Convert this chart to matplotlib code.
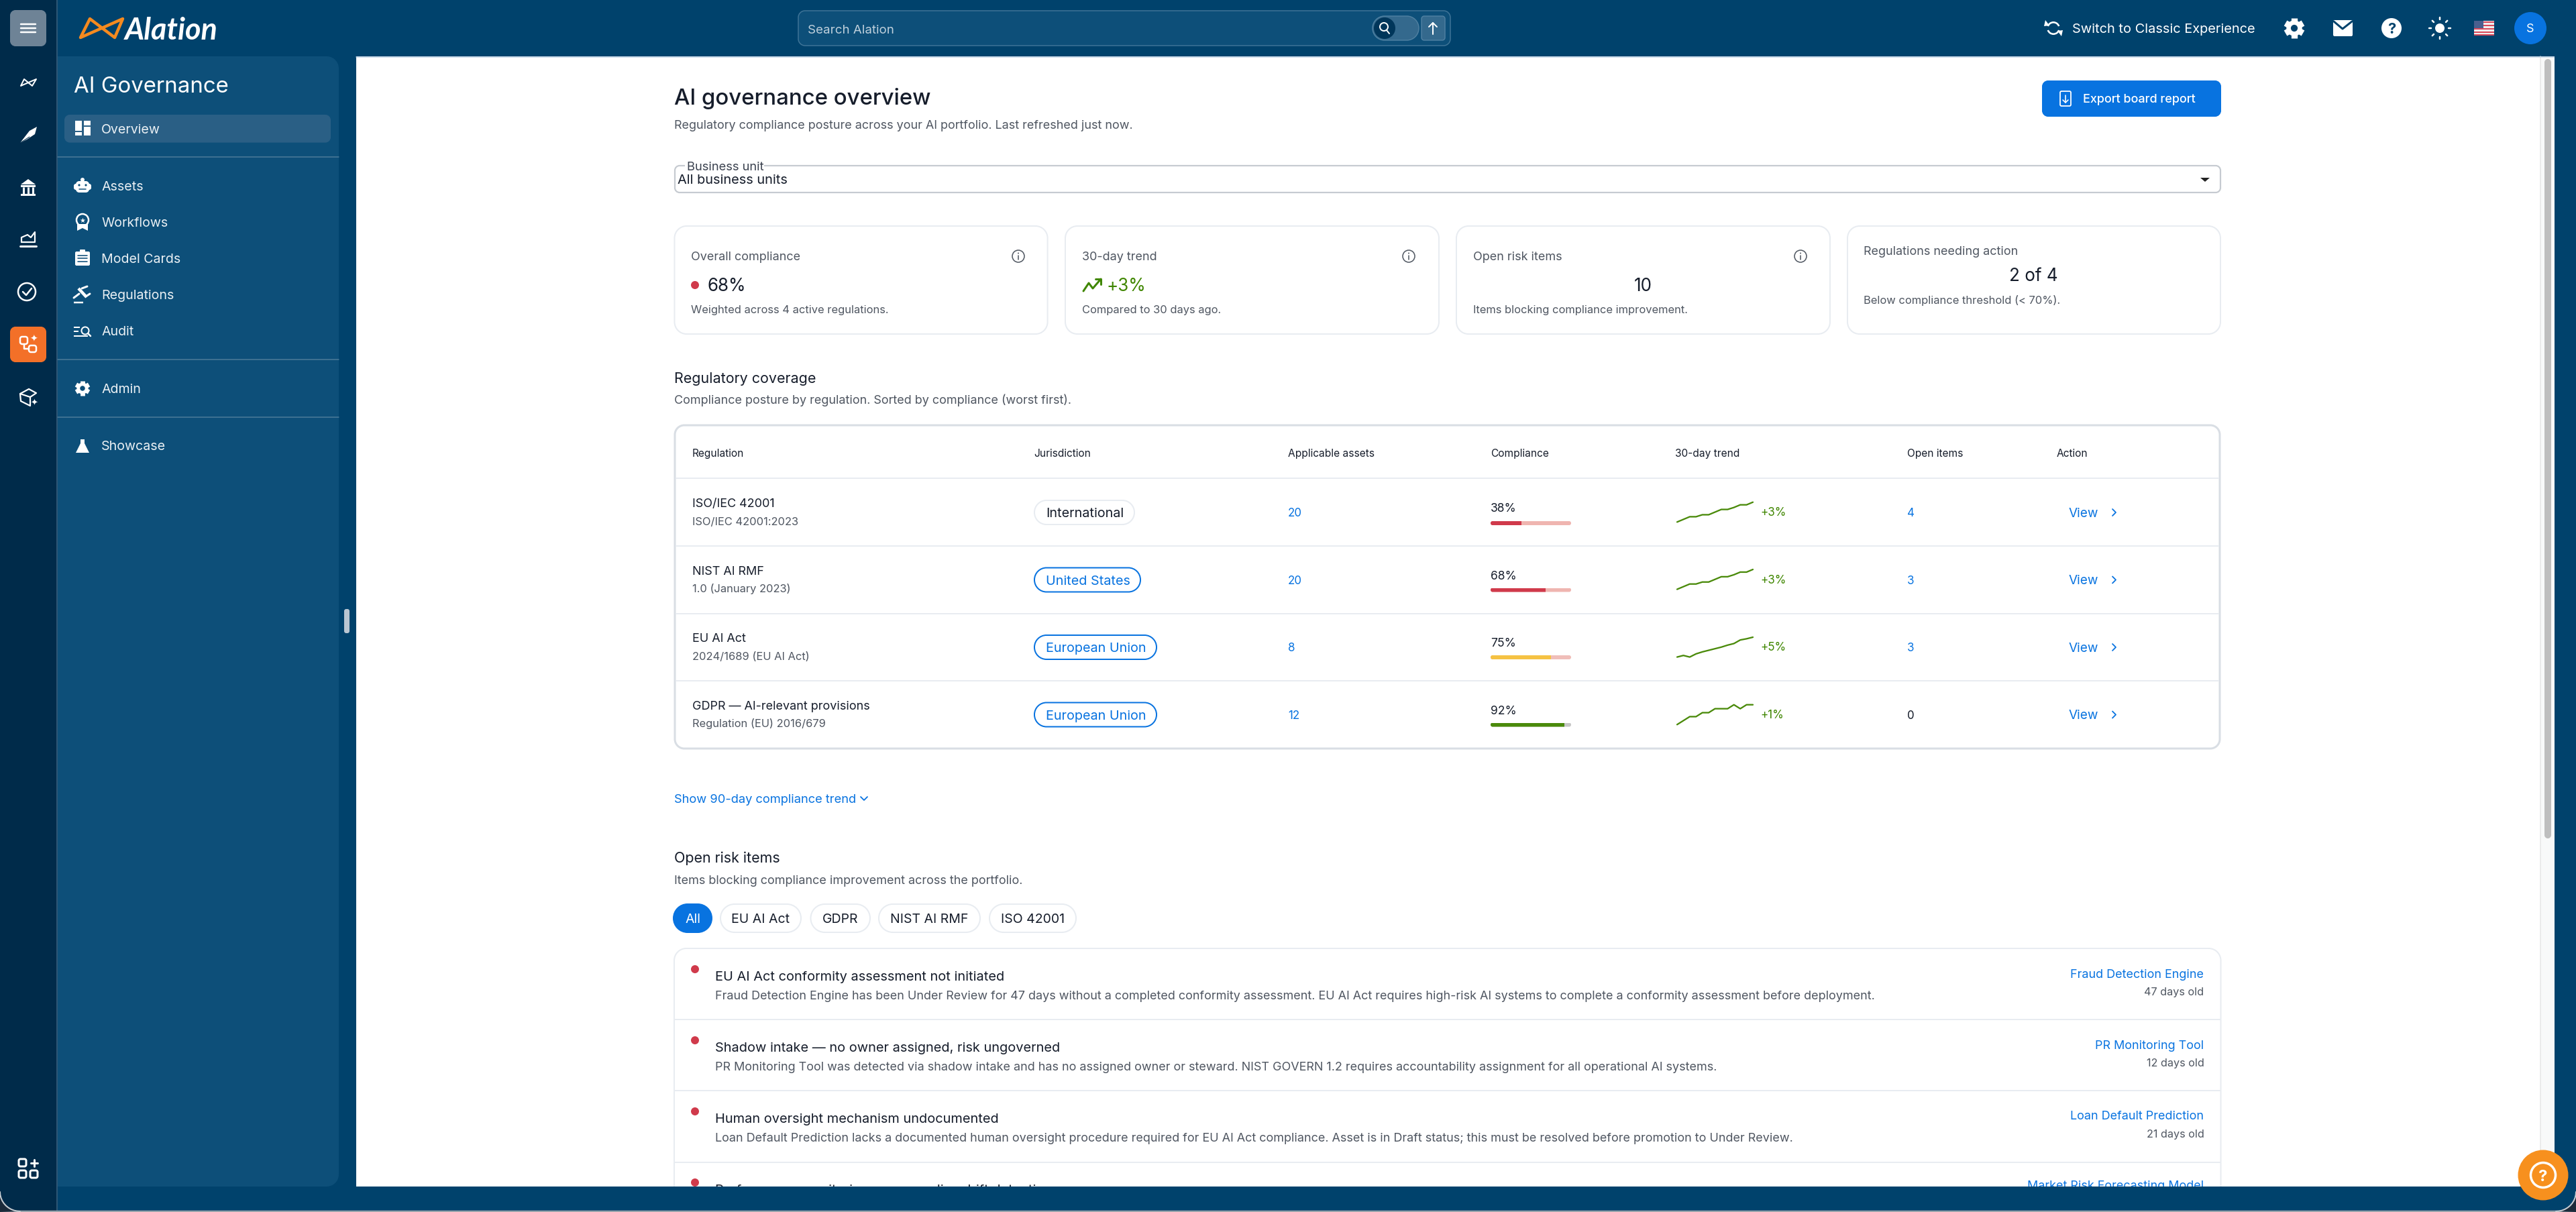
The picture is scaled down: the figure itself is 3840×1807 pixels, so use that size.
import math
import matplotlib
matplotlib.use("Agg")
import matplotlib.pyplot as plt
from matplotlib.patches import PathPatch, Rectangle, Circle, Polygon, Wedge
from matplotlib.path import Path

W, H = 3840, 1807
FONT = ["Inter", "DejaVu Sans"]
plt.rcParams["font.family"] = FONT

# ---------- DATA ----------
nav_items = ["Overview", "Assets", "Workflows", "Model Cards", "Regulations", "Audit", "Admin", "Showcase"]
regulations = ["ISO/IEC 42001", "NIST AI RMF", "EU AI Act", "GDPR — AI-relevant provisions"]
versions = ["ISO/IEC 42001:2023", "1.0 (January 2023)", "2024/1689 (EU AI Act)", "Regulation (EU) 2016/679"]
jurisdictions = ["International", "United States", "European Union", "European Union"]
assets = [20, 20, 8, 12]
compliance = [38, 68, 75, 92]
open_items = [4, 3, 3, 0]
deltas = ["+3%", "+3%", "+5%", "+1%"]
trend_iso = [35.0, 35.4, 35.8, 35.8, 36.1, 36.1, 36.5, 36.9, 36.9, 37.2, 37.6, 37.6, 38.0]
trend_nist = [65.0, 65.4, 65.8, 65.8, 66.1, 66.1, 66.5, 66.9, 66.9, 67.2, 67.6, 67.6, 68.0]
trend_eu = [70.0, 70.4, 70.0, 70.8, 71.3, 71.7, 72.1, 72.5, 73.0, 73.4, 74.3, 74.6, 75.0]
trend_gdpr = [91.0, 91.2, 91.4, 91.4, 91.6, 91.6, 91.8, 91.8, 91.8, 92.0, 91.8, 92.0, 92.0]
trends = [trend_iso, trend_nist, trend_eu, trend_gdpr]
headers = ["Regulation", "Jurisdiction", "Applicable assets", "Compliance", "30-day trend", "Open items", "Action"]
filter_chips = ["All", "EU AI Act", "GDPR", "NIST AI RMF", "ISO 42001"]
risk_titles = ["EU AI Act conformity assessment not initiated",
               "Shadow intake — no owner assigned, risk ungoverned",
               "Human oversight mechanism undocumented",
               "Performance monitoring gap — no live drift detection"]
risk_desc = ["Fraud Detection Engine has been Under Review for 47 days without a completed conformity assessment. EU AI Act requires high-risk AI systems to complete a conformity assessment before deployment.",
             "PR Monitoring Tool was detected via shadow intake and has no assigned owner or steward. NIST GOVERN 1.2 requires accountability assignment for all operational AI systems.",
             "Loan Default Prediction lacks a documented human oversight procedure required for EU AI Act compliance. Asset is in Draft status; this must be resolved before promotion to Under Review."]
risk_assets = ["Fraud Detection Engine", "PR Monitoring Tool", "Loan Default Prediction", "Market Risk Forecasting Model"]
risk_age = ["47 days old", "12 days old", "21 days old"]

# ---------- COLOURS ----------
TOP = "#00426C"; RAIL = "#002B4A"; SIDE = "#0D4F79"; SEL = "#2A5F85"
BLUE = "#0873E0"; INK = "#161D2B"; GRAY = "#4F5661"; LINE = "#E8ECF1"; LINE2 = "#D9DEE4"
GREEN = "#3F8600"; SPARK = "#4A8A0A"; RED = "#D03A4B"; ORANGE = "#F37028"
BAR_COL = [RED, RED, "#F5C243", "#4A8A0A"]
TRACK_COL = ["#EFB5B0", "#EFB5B0", "#F0BEB9", "#C6C6C6"]

fig = plt.figure(figsize=(W / 100, H / 100), dpi=100, facecolor=TOP)
ax = fig.add_axes([0, 0, 1, 1])
ax.set_xlim(0, W); ax.set_ylim(H, 0); ax.axis("off")


def T(x, yc, s, px=18, c=INK, ha="left", weight="normal", z=10, fam=None, style="normal"):
    """Text placed by the visual centre of its capitals, size in pixels."""
    return ax.text(x, yc + 0.36 * px, s, fontsize=px * 0.72, color=c, ha=ha, va="baseline",
                   fontweight=weight, zorder=z, family=fam or FONT, fontstyle=style)


def R(x0, y0, x1, y1, r=0, fc="white", ec="none", lw=0, z=2):
    if r:
        k = r * (1 - 0.5523)
        verts = [(x0 + r, y0), (x1 - r, y0), (x1 - k, y0), (x1, y0 + k), (x1, y0 + r),
                 (x1, y1 - r), (x1, y1 - k), (x1 - k, y1), (x1 - r, y1),
                 (x0 + r, y1), (x0 + k, y1), (x0, y1 - k), (x0, y1 - r),
                 (x0, y0 + r), (x0, y0 + k), (x0 + k, y0), (x0 + r, y0), (x0 + r, y0)]
        codes = [Path.MOVETO, Path.LINETO, Path.CURVE4, Path.CURVE4, Path.CURVE4,
                 Path.LINETO, Path.CURVE4, Path.CURVE4, Path.CURVE4,
                 Path.LINETO, Path.CURVE4, Path.CURVE4, Path.CURVE4,
                 Path.LINETO, Path.CURVE4, Path.CURVE4, Path.CURVE4, Path.CLOSEPOLY]
        p = PathPatch(Path(verts, codes), fc=fc, ec=ec, lw=lw * 0.72, zorder=z)
    else:
        p = Rectangle((x0, y0), x1 - x0, y1 - y0, fc=fc, ec=ec, lw=lw * 0.72, zorder=z)
    ax.add_patch(p)
    return p


def L(xs, ys, c="white", lw=2, z=6, cap="round"):
    ax.plot(xs, ys, color=c, lw=lw * 0.72, zorder=z, solid_capstyle=cap, solid_joinstyle="round")


def C(x, y, r, fc="white", ec="none", lw=0, z=6):
    ax.add_patch(Circle((x, y), r, fc=fc, ec=ec, lw=lw * 0.72, zorder=z))


def P(pts, fc="white", ec="none", lw=0, z=6, closed=True):
    ax.add_patch(Polygon(pts, closed=closed, fc=fc, ec=ec, lw=lw * 0.72, zorder=z, joinstyle="round"))


def gear(x, y, r, bg):
    C(x, y, r * 0.78)
    for i in range(6):
        a = math.pi / 3 * i + math.pi / 6
        L([x + math.cos(a) * r * 0.6, x + math.cos(a) * r],
          [y + math.sin(a) * r * 0.6, y + math.sin(a) * r], lw=r * 0.62, cap="butt")
    C(x, y, r * 0.34, fc=bg, z=7)


# ---------- FRAME ----------
R(0, 0, 85, H, fc=RAIL, z=1)
L([85, 85], [0, H], c="#2D5675", lw=2, z=1.5)
R(86, 84, 505, 1769, r=18, fc=SIDE, z=1)
R(86, 84, 110, 1769, fc=SIDE, z=1.1)
R(531, 84, 3808, 1769, fc="white", z=1)
L([531, 3808], [84.5, 84.5], c="#B9CFE3", lw=1.5, z=1.5)
R(3787, 84, 3808, 1769, fc="#F8F9F9", z=1.2)
L([3787, 3787], [84, 1769], c="#E6E6E6", lw=1.5, z=1.3)
R(3793, 88, 3803, 1250, r=5, fc="#BEBEBE", z=1.4)
R(513, 908, 521, 944, r=3, fc="#B9C6D2", z=2)

# top bar: logo
P([(120, 56), (134, 28), (171, 56), (183, 28)], fc="none", ec="#F58A1F", lw=4.5)
T(186, 43, "Alation", px=45, c="white", weight="bold", fam=["Lato", "DejaVu Sans"], style="italic")

# search
R(1190, 16, 2162, 68, r=10, fc=SIDE, ec="#3F7497", lw=1.5)
T(1204, 43, "Search Alation", px=18.7, c="#BFD0DC")
R(2046, 24, 2115, 60, r=17.9, fc="#34698D", ec="#4E7FA0", lw=1.5, z=3)
C(2064, 42, 16, fc="#00365A", z=4)
C(2063, 40, 6, fc="none", ec="white", lw=2)
L([2067, 2071], [45, 50])
R(2119, 24, 2154, 60, r=4, fc="#34698D", ec="#4E7FA0", lw=1.5, z=3)
L([2136, 2136], [34, 51]); L([2130, 2136, 2142], [40, 34, 40])

# top right
T(3089, 42, "Switch to Classic Experience", px=20, c="white")
ax.add_patch(Wedge((3061, 42), 10, 200, 340, width=2.6, fc="white", zorder=6))
ax.add_patch(Wedge((3061, 42), 10, 20, 160, width=2.6, fc="white", zorder=6))
P([(3049, 30), (3055, 38), (3047, 39)]); P([(3073, 54), (3067, 46), (3075, 45)])
gear(3420, 42, 15, TOP)
R(3478, 30, 3507, 54, r=2, fc="white", z=6)
L([3479, 3492, 3506], [32, 43, 32], c=TOP, lw=3, z=7)
C(3565, 42, 15)
T(3565, 42, "?", px=22, c=TOP, ha="center", weight="bold", z=8)
C(3637, 42, 7)
for dx, dy in [(0, -14), (0, 14), (-14, 0), (14, 0), (-10, -10), (10, -10), (-10, 10), (10, 10)]:
    L([3637 + dx * 0.9, 3637 + dx * 1.12], [42 + dy * 0.9, 42 + dy * 1.12], lw=2.5)
R(3688, 31, 3718, 53, fc="#EFEFEF", z=6)
for yy in (33, 38, 43, 48, 52):
    L([3688, 3718], [yy, yy], c="#D9495B", lw=2, z=7, cap="butt")
R(3688, 31, 3702, 42, fc="#4A5F8E", z=8)
C(3772, 42, 24, fc=BLUE)
T(3772, 42, "S", px=18, c="white", ha="center", z=8)

# ---------- LEFT RAIL ----------
R(15, 15, 69, 69, r=8, fc="#6E8396", z=2)
for yy in (36, 42, 48):
    L([31, 53], [yy, yy], lw=2.5)
P([(31, 128), (36, 118), (48, 128), (54, 118)], fc="none", ec="white", lw=2)
P([(30, 213), (44, 195), (55, 189), (52, 200), (40, 208)])
L([30, 44], [213, 204], c=RAIL, lw=1)
P([(31, 275), (42, 267), (53, 275)])
R(31, 276, 53, 279, fc="white", z=6); R(31, 289, 53, 292, fc="white", z=6)
for xx in (35, 42, 49):
    L([xx, xx], [279, 289], lw=3, cap="butt")
L([30, 54], [367, 367], lw=3)
L([32, 32, 41, 46, 52, 52, 32], [361, 354, 350, 354, 346, 361, 361], lw=2.2)
ax.add_patch(Circle((40, 435), 13, fc="none", ec="white", lw=2.5 * 0.72, zorder=6))
L([34, 39, 47], [435, 440, 430], lw=2.5)
R(15, 487, 69, 540, r=8, fc=ORANGE, z=2)
R(30, 502, 41, 513, r=3, fc="none", ec="white", lw=2.5, z=6)
R(43, 515, 54, 525, r=3, fc="none", ec="white", lw=2.5, z=6)
L([36, 36, 43], [513, 520, 520], lw=2.5)
T(50, 505, "✦", px=14, c="white", ha="center", fam=["DejaVu Sans"])
P([(30, 587), (43, 580), (54, 586), (45, 592), (45, 605), (31, 598)], fc="none", ec="white", lw=2.2)
L([30, 45], [587, 592], lw=2.2)
T(51, 600, "✦", px=13, c="white", ha="center", fam=["DejaVu Sans"])
for (x0, y0) in [(28, 1728), (28, 1745), (45, 1745)]:
    R(x0, y0, x0 + 11, y0 + 11, r=2.5, fc="none", ec="white", lw=3, z=6)
L([46, 56], [1734, 1734], lw=3); L([51, 51], [1729, 1739], lw=3)

# ---------- SIDEBAR ----------
T(110, 126, "AI Governance", px=33, c="white")
R(96, 171, 493, 212.6, r=8, fc=SEL, z=2)
nav_y = [191.5, 277, 331, 385, 439, 493, 579, 664]
for s, y in zip(nav_items, nav_y):
    T(151, y, s, px=19.6, c="#EAF0F4")
for y in (234, 536, 621.6):
    L([86, 505], [y, y], c="#4D7B9A", lw=1.5, z=2)
# overview tiles
R(112, 180, 122, 195, fc="white", z=6); R(125, 180, 135, 187, fc="white", z=6)
R(112, 197, 122, 202, fc="white", z=6); R(125, 189, 135, 202, fc="white", z=6)
# assets
R(113, 270, 133, 287, r=5, fc="white", z=6); R(110, 274, 136, 283, r=3, fc="white", z=6)
C(123, 268, 3); C(118, 276, 1.6, fc=SIDE, z=7); C(128, 276, 1.6, fc=SIDE, z=7)
L([118, 128], [282, 282], c=SIDE, lw=1.5, z=7)
# workflows
C(123, 328, 9, fc="none", ec="white", lw=2.5)
P([(115, 334), (115, 344), (123, 340), (131, 344), (131, 334)])
T(123, 328, "★", px=10, c="white", ha="center", fam=["DejaVu Sans"])
# model cards
R(112, 375, 134, 396, r=2, fc="white", z=6); R(119, 372, 127, 377, r=1, fc="white", z=6)
for yy in (381, 385, 390):
    L([116, 130], [yy, yy], c=SIDE, lw=1.6, z=7)
# gavel
L([117, 129], [430, 443], lw=4.5, cap="butt")
L([122, 130], [430, 427], lw=3); L([128, 134], [442, 438], lw=3)
L([110, 118], [444, 438], lw=3); L([110, 124], [451, 451], lw=2.5, cap="butt")
# audit
for yy, xe in ((488, 119), (494, 117), (501, 131)):
    L([110, xe], [yy, yy], lw=2, cap="butt")
C(127, 493, 5.5, fc="none", ec="white", lw=2); L([131, 135], [497, 501], lw=2.5)
# gear, flask
gear(123, 579, 11, SIDE)
P([(120, 655), (126, 655), (126, 661), (133, 675), (113, 675), (120, 661)])

# ---------- PAGE HEADER ----------
T(1005, 144, "AI governance overview", px=33, weight="medium")
T(1005, 186, "Regulatory compliance posture across your AI portfolio. Last refreshed just now.", px=18, c=GRAY)
R(3044, 120, 3311, 174, r=9, fc=BLUE)
R(3071, 136, 3087, 158, r=2, fc="none", ec="white", lw=1.8, z=6)
L([3079, 3079], [142, 153], lw=1.6); L([3075, 3079, 3083], [149, 153, 149], lw=1.6)
T(3105, 147, "Export board report", px=18, c="white", weight="medium")

# dropdown
R(1006, 247, 3310, 287, r=7, fc="white", ec="#C6CBD1", lw=2.2)
R(1021, 243, 1139, 251, fc="white", z=3)
T(1024, 247, "Business unit", px=18.4, c="#3C4350")
T(1010, 267, "All business units", px=20, c=INK)
P([(3280, 265), (3294, 265), (3287, 271)], fc="#222222")

# ---------- KPI CARDS ----------
for x0, x1 in [(1005.5, 1561.6), (1588, 2145), (2171, 2728), (2754, 3310)]:
    R(x0, 337, x1, 498, r=18, fc="white", ec=LINE, lw=2)
T(1030, 382, "Overall compliance", px=18, c=GRAY)
C(1036, 425, 6, fc=RED)
T(1055, 425, "68%", px=26, c=INK)
T(1030, 461, "Weighted across 4 active regulations.", px=16.5, c=GRAY)
T(1612.6, 382, "30-day trend", px=18, c=GRAY)
L([1615, 1623, 1629, 1641], [434, 422, 430, 416], c=GREEN, lw=3)
L([1633, 1641, 1641], [416, 416, 424], c=GREEN, lw=3)
T(1650, 425, "+3%", px=26, c=GREEN)
T(1612.6, 461, "Compared to 30 days ago.", px=16.5, c=GRAY)
T(2196, 382, "Open risk items", px=18, c=GRAY)
T(2449, 425, "10", px=26, c=INK, ha="center")
T(2196, 461, "Items blocking compliance improvement.", px=16.5, c=GRAY)
T(2778.5, 374, "Regulations needing action", px=18, c=GRAY)
T(3031.6, 410, "2 of 4", px=26, c=INK, ha="center")
T(2778.5, 447, "Below compliance threshold (< 70%).", px=16.5, c=GRAY)
for xi in (1518, 2100, 2684):
    C(xi, 382, 9, fc="none", ec="#555C66", lw=1.6)
    L([xi, xi], [381, 387], c="#555C66", lw=1.6); C(xi, 377.5, 1, fc="#555C66", z=7)

# ---------- REGULATORY COVERAGE ----------
T(1005, 563, "Regulatory coverage", px=21.5)
T(1005, 596, "Compliance posture by regulation. Sorted by compliance (worst first).", px=18, c=GRAY)
R(1006, 634, 3309, 1116, r=14, fc="white", ec=LINE2, lw=3)
col_x = [1032, 1541, 1920, 2222, 2497, 2843, 3066]
for h, x in zip(headers, col_x):
    T(x, 675.6, h, px=15.5, c=INK)
row_lines = [713, 814, 914.7, 1015]
for y in row_lines:
    L([1007, 3308], [y, y], c=LINE, lw=2, z=3, cap="butt")
row_c = [764, 864.5, 965, 1065.5]
chip_r = [1691, 1700, 1724, 1724]
for i, yc in enumerate(row_c):
    T(1032, yc - 14, regulations[i], px=18, c=INK)
    T(1032, yc + 13, versions[i], px=16.5, c=GRAY)
    is_blue = i > 0
    R(1542, yc - 18, chip_r[i], yc + 18, r=17.9, fc="white", ec=BLUE if is_blue else LINE, lw=2, z=3)
    T(1559, yc, jurisdictions[i], px=19.8, c=BLUE if is_blue else INK)
    T(1920, yc, str(assets[i]), px=17, c=BLUE)
    T(2222, yc - 7, f"{compliance[i]}%", px=17.5, c=INK)
    T(2624, yc - 1, deltas[i], px=17, c=GREEN)
    T(2843, yc, str(open_items[i]), px=17, c=BLUE if open_items[i] else INK)
    T(3084, yc, "View", px=19, c=BLUE)
    L([3149, 3154, 3149], [yc - 5, yc, yc + 5], c=BLUE, lw=1.8)

    # compliance bar, from the values
    by = yc + 12 + (i == 0)
    shape = R(2222, by, 2342, by + 6, r=2.9, fc="none", z=0)
    bar_ax = fig.add_axes([2222 / W, 1 - (by + 6) / H, 120 / W, 6 / H])
    bar_ax.set_xlim(0, 100); bar_ax.set_ylim(-0.5, 0.5); bar_ax.axis("off")
    b0 = bar_ax.barh([0], [100], height=1, color=TRACK_COL[i], linewidth=0)[0]
    b1 = bar_ax.barh([0], [compliance[i]], height=1, color=BAR_COL[i], linewidth=0)[0]
    b0.set_clip_path(shape); b1.set_clip_path(shape)

    # sparkline, from the values
    sy = [748.7, 849, 950, 1050.7][i]
    sp_ax = fig.add_axes([2500 / W, 1 - (sy + 29.6) / H, 113 / W, 29.6 / H])
    sp_ax.patch.set_alpha(0); sp_ax.axis("off")
    sp_ax.plot(range(len(trends[i])), trends[i], color=SPARK, lw=2.3 * 0.72, clip_on=False,
               solid_joinstyle="round", solid_capstyle="round")
    sp_ax.set_xlim(0, len(trends[i]) - 1)
    sp_ax.set_ylim(min(trends[i]), max(trends[i]))

T(1005, 1190, "Show 90-day compliance trend", px=18.3, c=BLUE)
L([1283, 1288, 1293], [1188, 1193, 1188], c=BLUE, lw=1.8)

# ---------- OPEN RISK ITEMS ----------
T(1005, 1278, "Open risk items", px=21.5)
T(1005, 1311.6, "Items blocking compliance improvement across the portfolio.", px=18, c=GRAY)
chip_x = [(1004, 1061), (1074, 1194), (1208.5, 1297), (1310, 1461), (1475, 1604)]
for i, (s, (x0, x1)) in enumerate(zip(filter_chips, chip_x)):
    R(x0, 1348, x1, 1390, r=20.9, fc=BLUE if i == 0 else "white", ec=BLUE if i == 0 else LINE, lw=2, z=3)
    T((x0 + x1) / 2, 1369, s, px=19.5, c="white" if i == 0 else INK, ha="center")
R(1005, 1414, 3310.5, 1900, r=18, fc="white", ec=LINE, lw=2)
for y in (1520, 1626, 1732.6):
    L([1006, 3310], [y, y], c=LINE, lw=2, z=3, cap="butt")
dots_y = [1445, 1551, 1657, 1763]
title_y = [1454.5, 1561, 1667, 1773]
desc_y = [1484, 1590, 1696]
asset_y = [1452, 1558, 1663, 1767]
age_y = [1478, 1584, 1690]
for y in dots_y:
    C(1036, y, 6, fc=RED)
for s, y in zip(risk_titles, title_y):
    T(1066, y, s, px=20)
for s, y in zip(risk_desc, desc_y):
    T(1066, y, s, px=18, c=GRAY)
for s, y in zip(risk_assets, asset_y):
    T(3285.5, y, s, px=18, c=BLUE, ha="right")
for s, y in zip(risk_age, age_y):
    T(3285.5, y, s, px=16.2, c=GRAY, ha="right")

# ---------- BOTTOM BAND, HELP, WINDOW EDGE ----------
R(531, 1769, 3840, H, fc=TOP, z=20)
R(3808, 84, 3840, H, fc=TOP, z=20)
L([0, W], [1806, 1806], c="#9AA4AC", lw=2.5, z=21, cap="butt")
arc = [(30 - 30 * math.cos(t * math.pi / 20), 1777 + 29 * math.sin(t * math.pi / 20)) for t in range(11)]
P(arc + [(0, 1807)], fc="#1B2A3A", z=22)
L([p[0] for p in arc], [p[1] for p in arc], c="#C9CED3", lw=2, z=23)
arc2 = [(3810 + 30 * math.cos(t * math.pi / 20), 1777 + 29 * math.sin(t * math.pi / 20)) for t in range(11)]
P(arc2 + [(3840, 1807)], fc="#1B2A3A", z=22)
L([p[0] for p in arc2], [p[1] for p in arc2], c="#C9CED3", lw=2, z=23)
C(3791, 1752, 37.5, fc="#F7901E", z=24)
C(3791, 1752, 18.5, fc="none", ec="white", lw=3.5, z=25)
T(3791, 1752, "?", px=24, c="white", ha="center", weight="bold", z=25)

fig.savefig("out.png", dpi=100, facecolor=TOP)
